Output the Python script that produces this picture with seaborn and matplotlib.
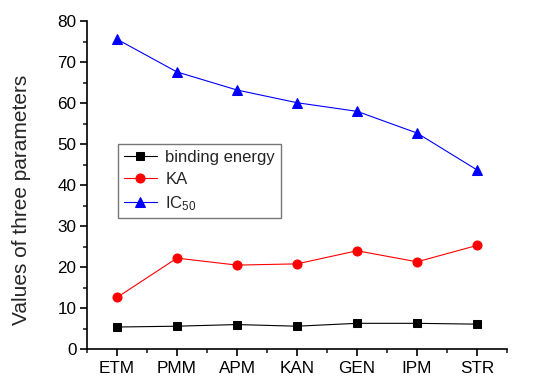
import matplotlib
matplotlib.use("Agg")
import matplotlib.pyplot as plt
import seaborn as sns
import pandas as pd
from matplotlib.ticker import MultipleLocator

categories = ["ETM", "PMM", "APM", "KAN", "GEN", "IPM", "STR"]
binding_energy = [5.4, 5.6, 6.0, 5.6, 6.3, 6.3, 6.1]
ka = [12.6, 22.2, 20.5, 20.8, 24.0, 21.3, 25.3]
ic50 = [75.6, 67.6, 63.2, 60.1, 58.0, 52.7, 43.7]

series_names = ["binding energy", "KA", "IC$_{50}$"]
rows = []
for name, vals in zip(series_names, [binding_energy, ka, ic50]):
    for i, v in enumerate(vals):
        rows.append({"pos": i, "value": v, "series": name})
df = pd.DataFrame(rows)

sns.set_style("ticks")
plt.rcParams["font.family"] = ["Liberation Sans", "DejaVu Sans"]
plt.rcParams["mathtext.fontset"] = "custom"
plt.rcParams["mathtext.rm"] = "Liberation Sans"
plt.rcParams["mathtext.it"] = "Liberation Sans"

fig = plt.figure(figsize=(5.5, 3.91), dpi=100)
ax = fig.add_axes([0.158, 0.107, 0.764, 0.839])

palette = {"binding energy": "black", "KA": "red", "IC$_{50}$": "blue"}
markers = {"binding energy": "s", "KA": "o", "IC$_{50}$": "^"}
sizes_m = {"binding energy": 5.2, "KA": 6.5, "IC$_{50}$": 7.5}

for name in series_names:
    sub = df[df["series"] == name]
    sns.lineplot(data=sub, x="pos", y="value", ax=ax, color=palette[name],
                 marker=markers[name], markersize=sizes_m[name],
                 markeredgecolor=palette[name], linewidth=0.8, label=name)

ax.set_xlim(-0.5, 6.5)
ax.set_ylim(0, 80)
ax.set_xticks(range(len(categories)))
ax.set_xticklabels(categories)
ax.xaxis.set_minor_locator(MultipleLocator(1, offset=0.5))
ax.yaxis.set_major_locator(MultipleLocator(10))
ax.yaxis.set_minor_locator(MultipleLocator(5))
ax.tick_params(axis="both", which="major", labelsize=12.3, length=5, width=1.2, direction="out", colors="black")
ax.tick_params(axis="y", which="major", pad=2.5)
ax.tick_params(axis="both", which="minor", length=3, width=1.2, direction="out")
ax.set_xlabel("")
ax.set_ylabel("Values of three parameters", fontsize=15)
ax.yaxis.set_label_coords(-0.133, 0.454)
for s in ["top", "right"]:
    ax.spines[s].set_visible(False)
for s in ["left", "bottom"]:
    ax.spines[s].set_linewidth(1.2)
    ax.spines[s].set_color("black")

leg = ax.legend(loc="upper left", bbox_to_anchor=(0.074, 0.625), borderaxespad=0,
                fontsize=12, frameon=True, fancybox=False, edgecolor="#555555",
                handlelength=2.0, borderpad=0.35, labelspacing=0.42, handletextpad=0.5)
leg.get_frame().set_linewidth(1.0)

fig.savefig("out.png", dpi=100)
